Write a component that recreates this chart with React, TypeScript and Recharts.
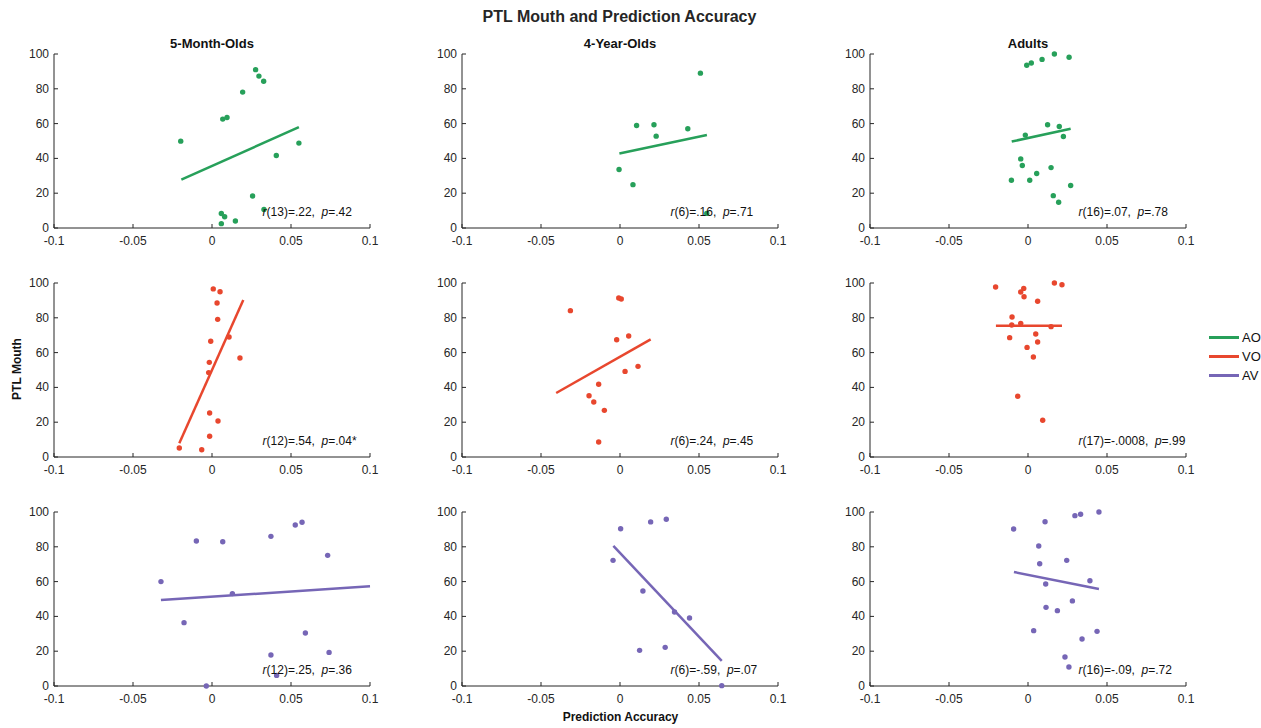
import React from "react";
import {
  ComposedChart,
  Scatter,
  XAxis,
  YAxis,
  ReferenceDot,
} from "recharts";

// ---- data ----
const columns = ["5-Month-Olds", "4-Year-Olds", "Adults"];
const conditions = ["AO", "VO", "AV"];
const colors: Record<string, string> = { AO: "#27a05a", VO: "#e8472e", AV: "#7666b6" };

const xTicks = [-0.1, -0.05, 0, 0.05, 0.1];
const yTicks = [0, 20, 40, 60, 80, 100];

type Pt = { x: number; y: number };

// AO row
const aoInfant: Pt[] = [
  { x: -0.0198, y: 49.9 }, { x: 0.0068, y: 62.6 }, { x: 0.0095, y: 63.5 },
  { x: 0.0194, y: 78.1 }, { x: 0.0276, y: 91 }, { x: 0.0297, y: 87.3 },
  { x: 0.0327, y: 84.3 }, { x: 0.055, y: 48.8 }, { x: 0.0407, y: 41.7 },
  { x: 0.0257, y: 18.4 }, { x: 0.0329, y: 10.6 }, { x: 0.0059, y: 8.3 },
  { x: 0.008, y: 6.5 }, { x: 0.0148, y: 4.0 }, { x: 0.0059, y: 2.5 },
];
const aoChild: Pt[] = [
  { x: 0.0509, y: 89 }, { x: 0.0105, y: 58.9 }, { x: 0.0215, y: 59.3 },
  { x: 0.0229, y: 52.8 }, { x: 0.0429, y: 57 }, { x: -0.0006, y: 33.6 },
  { x: 0.0082, y: 24.9 }, { x: 0.0549, y: 8.4 },
];
const aoAdult: Pt[] = [
  { x: -0.0008, y: 93.5 }, { x: 0.0021, y: 94.8 }, { x: 0.0089, y: 96.9 },
  { x: 0.0167, y: 100 }, { x: 0.026, y: 98.1 }, { x: 0.0124, y: 59.3 },
  { x: 0.0198, y: 58.3 }, { x: 0.0224, y: 52.6 }, { x: -0.0017, y: 53.4 },
  { x: -0.0046, y: 39.7 }, { x: -0.0036, y: 35.9 }, { x: 0.0146, y: 34.7 },
  { x: 0.0055, y: 31.3 }, { x: -0.0105, y: 27.4 }, { x: 0.0011, y: 27.4 },
  { x: 0.027, y: 24.4 }, { x: 0.016, y: 18.6 }, { x: 0.0194, y: 14.8 },
];

// VO row
const voInfant: Pt[] = [
  { x: 0.0008, y: 96.6 }, { x: 0.0051, y: 95.0 }, { x: 0.0032, y: 88.5 },
  { x: 0.0036, y: 79.1 }, { x: 0.0108, y: 69.0 }, { x: -0.0008, y: 66.5 },
  { x: 0.0177, y: 56.9 }, { x: -0.0017, y: 54.4 }, { x: -0.0021, y: 48.5 },
  { x: -0.0015, y: 25.3 }, { x: 0.0038, y: 20.7 }, { x: -0.0015, y: 11.9 },
  { x: -0.0207, y: 5.2 }, { x: -0.0065, y: 4.2 },
];
const voChild: Pt[] = [
  { x: -0.0008, y: 91.4 }, { x: 0.0008, y: 90.8 }, { x: -0.0314, y: 84.1 },
  { x: 0.0055, y: 69.5 }, { x: -0.0021, y: 67.4 }, { x: 0.0032, y: 49.2 },
  { x: 0.0114, y: 52.1 }, { x: -0.0135, y: 41.8 }, { x: -0.0196, y: 35.2 },
  { x: -0.0166, y: 31.6 }, { x: -0.0099, y: 26.8 }, { x: -0.0135, y: 8.6 },
];
const voAdult: Pt[] = [
  { x: -0.0205, y: 97.7 }, { x: -0.0027, y: 96.9 }, { x: -0.0046, y: 94.8 },
  { x: -0.0025, y: 92.1 }, { x: 0.0167, y: 100 }, { x: 0.0215, y: 99 },
  { x: 0.0061, y: 89.5 }, { x: -0.0101, y: 80.5 }, { x: -0.0103, y: 75.9 },
  { x: -0.0046, y: 76.8 }, { x: 0.0146, y: 74.9 }, { x: 0.0049, y: 70.7 },
  { x: -0.0116, y: 68.6 }, { x: 0.0061, y: 66.1 }, { x: -0.0006, y: 63.0 },
  { x: 0.0034, y: 57.5 }, { x: -0.0065, y: 34.9 }, { x: 0.0093, y: 21.1 },
];

// AV row
const avInfant: Pt[] = [
  { x: -0.0323, y: 60 }, { x: -0.0099, y: 83.3 }, { x: 0.0068, y: 82.9 },
  { x: 0.0373, y: 86 }, { x: 0.0527, y: 92.5 }, { x: 0.057, y: 94.1 },
  { x: 0.0732, y: 75.1 }, { x: -0.0177, y: 36.4 }, { x: 0.0129, y: 53.1 },
  { x: 0.0591, y: 30.5 }, { x: 0.0373, y: 17.8 }, { x: 0.0741, y: 19.3 },
  { x: 0.0409, y: 6.1 }, { x: -0.0036, y: 0 },
];
const avChild: Pt[] = [
  { x: 0.0004, y: 90.4 }, { x: 0.0194, y: 94.3 }, { x: 0.0293, y: 95.8 },
  { x: -0.0044, y: 72.2 }, { x: 0.0145, y: 54.6 }, { x: 0.0345, y: 42.5 },
  { x: 0.044, y: 39.1 }, { x: 0.0124, y: 20.5 }, { x: 0.0286, y: 22.2 },
  { x: 0.0644, y: 0.2 },
];
const avAdult: Pt[] = [
  { x: -0.0091, y: 90.2 }, { x: 0.0108, y: 94.4 }, { x: 0.0297, y: 97.9 },
  { x: 0.0333, y: 98.7 }, { x: 0.0449, y: 100 }, { x: 0.0068, y: 80.5 },
  { x: 0.0074, y: 70.3 }, { x: 0.0245, y: 72.2 }, { x: 0.0392, y: 60.5 },
  { x: 0.0112, y: 58.6 }, { x: 0.0281, y: 48.9 }, { x: 0.0114, y: 45.2 },
  { x: 0.0186, y: 43.3 }, { x: 0.0036, y: 31.8 }, { x: 0.0437, y: 31.4 },
  { x: 0.0342, y: 27 }, { x: 0.0234, y: 16.7 }, { x: 0.0259, y: 10.9 },
];

// fitted line end points
const fitLines: Pt[][][] = [
  [
    [{ x: -0.0194, y: 27.8 }, { x: 0.055, y: 58 }],
    [{ x: -0.0004, y: 42.8 }, { x: 0.055, y: 53.4 }],
    [{ x: -0.0103, y: 49.7 }, { x: 0.027, y: 57 }],
  ],
  [
    [{ x: -0.0207, y: 7.9 }, { x: 0.0198, y: 90.2 }],
    [{ x: -0.0404, y: 36.8 }, { x: 0.0194, y: 67.6 }],
    [{ x: -0.0203, y: 75.5 }, { x: 0.0215, y: 75.5 }],
  ],
  [
    [{ x: -0.0323, y: 49.4 }, { x: 0.1, y: 57.3 }],
    [{ x: -0.0042, y: 80.5 }, { x: 0.0644, y: 14.4 }],
    [{ x: -0.0089, y: 65.5 }, { x: 0.0449, y: 55.7 }],
  ],
];

const points: Pt[][][] = [
  [aoInfant, aoChild, aoAdult],
  [voInfant, voChild, voAdult],
  [avInfant, avChild, avAdult],
];

// [df, r, p]
const stats: string[][][] = [
  [["13", ".22", ".42"], ["6", ".16", ".71"], ["16", ".07", ".78"]],
  [["12", ".54", ".04*"], ["6", ".24", ".45"], ["17", "-.0008", ".99"]],
  [["12", ".25", ".36"], ["6", "-.59", ".07"], ["16", "-.09", ".72"]],
];

// ---- layout ----
const FONT = "'Liberation Sans', Arial, Helvetica, sans-serif";
const INK = "#262626";
const plotLefts = [54, 462, 870];
const plotTops = [54, 283, 512];
const PLOT_W = 316;
const PLOT_H = 174;
const M = { top: 10, right: 20, left: 0, bottom: 0 };
const Y_W = 40;
const X_H = 30;

const XTick = (props: any) => {
  const { x, y, payload } = props;
  return (
    <g>
      <line x1={x} y1={y} x2={x} y2={y - 4} stroke={INK} strokeWidth={1} />
      <text x={x} y={y + 17} textAnchor="middle" fontSize={12} fill={INK} fontFamily={FONT}>
        {payload.value}
      </text>
    </g>
  );
};

const YTick = (props: any) => {
  const { x, y, payload } = props;
  return (
    <g>
      <line x1={x} y1={y} x2={x + 4} y2={y} stroke={INK} strokeWidth={1} />
      <text x={x - 5} y={y + 4} textAnchor="end" fontSize={12} fill={INK} fontFamily={FONT}>
        {payload.value}
      </text>
    </g>
  );
};

const NoDot = () => <g />;

function Panel({ row, col }: { row: number; col: number }) {
  const cond = conditions[row];
  const color = colors[cond];
  const [df, r, p] = stats[row][col];
  return (
    <div
      style={{
        position: "absolute",
        left: plotLefts[col] - Y_W,
        top: plotTops[row] - M.top,
      }}
    >
      <ComposedChart
        width={Y_W + PLOT_W + M.right}
        height={M.top + PLOT_H + X_H}
        margin={M}
      >
        <XAxis
          type="number"
          dataKey="x"
          domain={[-0.1, 0.1]}
          ticks={xTicks}
          tickSize={0}
          tickMargin={0}
          tickLine={false}
          height={X_H}
          stroke={INK}
          tick={<XTick />}
          interval={0}
        />
        <YAxis
          type="number"
          dataKey="y"
          domain={[0, 100]}
          ticks={yTicks}
          tickSize={0}
          tickMargin={0}
          tickLine={false}
          width={Y_W}
          stroke={INK}
          tick={<YTick />}
          interval={0}
        />
        <Scatter
          data={fitLines[row][col]}
          line={{ stroke: color, strokeWidth: 2.5 }}
          shape={<NoDot />}
          isAnimationActive={false}
        />
        <Scatter
          data={points[row][col]}
          fill={color}
          shape={(s: any) => <circle cx={s.cx} cy={s.cy} r={2.7} fill={color} />}
          isAnimationActive={false}
        />
        <ReferenceDot
          x={0.032}
          y={9.2}
          r={0}
          fill="none"
          stroke="none"
          label={(lp: any) => (
            <text
              x={lp.viewBox.x}
              y={lp.viewBox.y + 4}
              fontSize={12}
              fill="#111"
              fontFamily={FONT}
              textAnchor="start"
            >
              <tspan fontStyle="italic">r</tspan>
              <tspan>{`(${df})=${r},\u00a0\u00a0`}</tspan>
              <tspan fontStyle="italic">p</tspan>
              <tspan>{`=${p}`}</tspan>
            </text>
          )}
        />
      </ComposedChart>
    </div>
  );
}

export default function App() {
  return (
    <div
      style={{
        position: "absolute",
        left: 0,
        top: 0,
        width: 1261,
        height: 728,
        background: "#fff",
        fontFamily: FONT,
        color: INK,
      }}
    >
      <div
        style={{
          position: "absolute",
          left: 0,
          width: 1239,
          top: 8,
          textAlign: "center",
          fontSize: 16,
          fontWeight: "bold",
        }}
      >
        PTL Mouth and Prediction Accuracy
      </div>
      {columns.map((c, i) => (
        <div
          key={c}
          style={{
            position: "absolute",
            left: plotLefts[i],
            width: PLOT_W,
            top: 36,
            textAlign: "center",
            fontSize: 13,
            fontWeight: "bold",
            color: "#111",
          }}
        >
          {c}
        </div>
      ))}
      {[0, 1, 2].map((row) =>
        [0, 1, 2].map((col) => <Panel key={`${row}-${col}`} row={row} col={col} />)
      )}
      <div
        style={{
          position: "absolute",
          left: -33,
          top: 362,
          width: 100,
          textAlign: "center",
          transform: "rotate(-90deg)",
          fontSize: 12,
          fontWeight: "bold",
          color: "#111",
        }}
      >
        PTL Mouth
      </div>
      <div
        style={{
          position: "absolute",
          left: 462,
          width: 317,
          top: 710,
          textAlign: "center",
          fontSize: 12,
          fontWeight: "bold",
          color: "#111",
        }}
      >
        Prediction Accuracy
      </div>
      <div style={{ position: "absolute", left: 1209, top: 328 }}>
        {conditions.map((c) => (
          <div key={c} style={{ display: "flex", alignItems: "center", height: 19 }}>
            <div style={{ width: 30, height: 2.5, background: colors[c], marginRight: 3 }} />
            <span style={{ fontSize: 13, color: "#111" }}>{c}</span>
          </div>
        ))}
      </div>
    </div>
  );
}
